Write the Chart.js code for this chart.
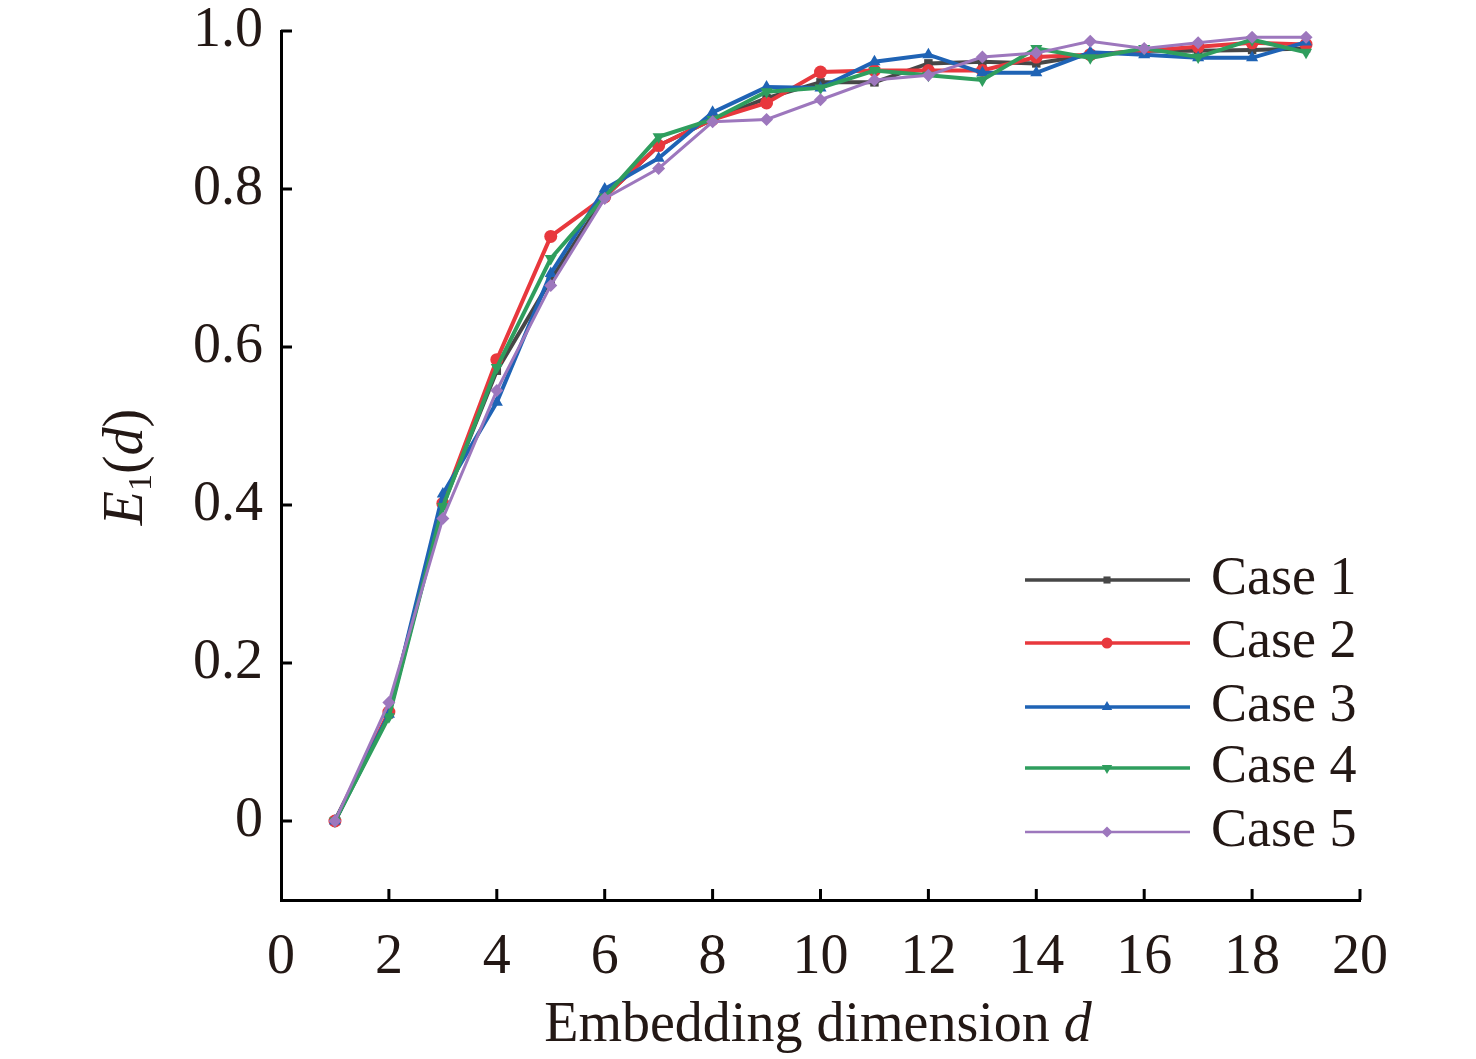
<!DOCTYPE html>
<html>
<head>
<meta charset="utf-8">
<script src="https://cdn.jsdelivr.net/npm/chart.js@4.4.0/dist/chart.umd.min.js"></script>
<style>
  html, body { margin: 0; padding: 0; background: #fff; }
  #wrap { width: 1476px; height: 1059px; }
</style>
</head>
<body>
<div id="wrap"><canvas id="chart" width="1476" height="1059"></canvas></div>
<script>
'use strict';

const dims = [1, 2, 3, 4, 5, 6, 7, 8, 9, 10, 11, 12, 13, 14, 15, 16, 17, 18, 19];
const case1 = [0, 0.135, 0.400, 0.570, 0.685, 0.790, 0.855, 0.888, 0.915, 0.935, 0.935, 0.959, 0.961, 0.959, 0.970, 0.975, 0.975, 0.976, 0.978];
const case2 = [0, 0.138, 0.402, 0.584, 0.740, 0.790, 0.855, 0.888, 0.909, 0.948, 0.950, 0.950, 0.950, 0.967, 0.970, 0.975, 0.980, 0.985, 0.983];
const case3 = [0, 0.135, 0.414, 0.530, 0.693, 0.800, 0.839, 0.897, 0.929, 0.928, 0.961, 0.970, 0.947, 0.947, 0.973, 0.970, 0.966, 0.966, 0.986];
const case4 = [0, 0.132, 0.398, 0.574, 0.712, 0.790, 0.866, 0.888, 0.923, 0.928, 0.950, 0.944, 0.938, 0.978, 0.966, 0.978, 0.967, 0.989, 0.973];
const case5 = [0, 0.150, 0.383, 0.545, 0.678, 0.788, 0.826, 0.885, 0.888, 0.913, 0.938, 0.944, 0.967, 0.972, 0.987, 0.978, 0.985, 0.992, 0.992];

const caseNames = ['Case 1', 'Case 2', 'Case 3', 'Case 4', 'Case 5'];
const caseColors = ['#474747', '#e8383d', '#1f63b5', '#2f9e5e', '#9d77bd'];
const xTicks = [0, 2, 4, 6, 8, 10, 12, 14, 16, 18, 20];
const yTicks = [0, 0.2, 0.4, 0.6, 0.8, 1.0];

const serif = '"Liberation Serif", "DejaVu Serif", serif';
const textColor = '#231815';

const allSeries = [case1, case2, case3, case4, case5];
const pointStyles = ['rect', 'circle', 'triangle', 'triangle', 'rectRot'];
const rotations = [0, 0, 0, 180, 0];
const lineWidths = [4, 4, 4, 4, 3];
const radii = [6, 6.5, 7, 7, 6.5];

function makeDatasets() {
  const sets = [];
  for (let i = 0; i < allSeries.length; i++) {
    sets.push({
      label: caseNames[i],
      data: dims.map((d, j) => ({ x: d, y: allSeries[i][j] })),
      borderColor: caseColors[i],
      backgroundColor: caseColors[i],
      borderWidth: lineWidths[i],
      pointStyle: pointStyles[i],
      rotation: rotations[i],
      pointRadius: radii[i],
      pointBorderWidth: 0,
      tension: 0,
      order: allSeries.length - 1 - i,
    });
  }
  return sets;
}

// inward ticks, rich-text titles and legend
const decorPlugin = {
  id: 'decor',
  afterDraw(chart) {
    const ctx = chart.ctx;
    const xs = chart.scales.x;
    const ys = chart.scales.y;
    const area = chart.chartArea;
    ctx.save();
    ctx.strokeStyle = '#000';
    ctx.lineWidth = 3;
    ctx.beginPath();
    xTicks.forEach(t => {
      if (t === 0) return;
      const px = xs.getPixelForValue(t);
      ctx.moveTo(px, area.bottom);
      ctx.lineTo(px, area.bottom - 11);
    });
    yTicks.forEach(t => {
      const py = ys.getPixelForValue(t);
      ctx.moveTo(area.left, py);
      ctx.lineTo(area.left + 11, py);
    });
    ctx.stroke();

    // x title
    ctx.fillStyle = textColor;
    ctx.textBaseline = 'alphabetic';
    const xPart1 = 'Embedding dimension ';
    ctx.font = '56px ' + serif;
    const w1 = ctx.measureText(xPart1).width;
    ctx.font = 'italic 56px ' + serif;
    const w2 = ctx.measureText('d').width;
    let sx = 818 - (w1 + w2) / 2;
    ctx.font = '56px ' + serif;
    ctx.textAlign = 'left';
    ctx.fillText(xPart1, sx, 1041);
    ctx.font = 'italic 56px ' + serif;
    ctx.fillText('d', sx + w1, 1041);

    // y title
    ctx.save();
    ctx.translate(142, 467);
    ctx.rotate(-Math.PI / 2);
    const parts = [
      { t: 'E', f: 'italic 56px ' + serif, dy: 0 },
      { t: '1', f: '34px ' + serif, dy: 9 },
      { t: '(', f: '56px ' + serif, dy: 0 },
      { t: 'd', f: 'italic 56px ' + serif, dy: 0 },
      { t: ')', f: '56px ' + serif, dy: 0 },
    ];
    let total = 0;
    parts.forEach(p => { ctx.font = p.f; p.w = ctx.measureText(p.t).width; total += p.w; });
    let cx = -total / 2;
    parts.forEach(p => {
      ctx.font = p.f;
      ctx.fillText(p.t, cx, p.dy);
      cx += p.w;
    });
    ctx.restore();

    // legend
    const rowY = [580, 643, 707, 768, 832];
    for (let i = 0; i < caseNames.length; i++) {
      const y = rowY[i];
      ctx.strokeStyle = caseColors[i];
      ctx.lineWidth = lineWidths[i] - 0.5;
      ctx.beginPath();
      ctx.moveTo(1025, y);
      ctx.lineTo(1190, y);
      ctx.stroke();
      ctx.fillStyle = caseColors[i];
      Chart.helpers.drawPoint(ctx, {
        pointStyle: pointStyles[i],
        rotation: rotations[i],
        radius: radii[i] - 1,
        borderWidth: 0,
      }, 1107, y);
      ctx.fillStyle = textColor;
      ctx.font = '54px ' + serif;
      ctx.textAlign = 'left';
      ctx.textBaseline = 'middle';
      ctx.fillText(caseNames[i], 1211, y);
    }
    ctx.restore();
  },
};

const config = {
  type: 'line',
  data: { datasets: makeDatasets() },
  options: {
    responsive: false,
    devicePixelRatio: 1,
    animation: false,
    layout: { padding: { top: 31, right: 116, bottom: 0, left: 0 } },
    plugins: { legend: { display: false }, tooltip: { enabled: false } },
    scales: {
      x: {
        type: 'linear',
        min: 0,
        max: 20,
        afterFit(s) { s.height = 159; s.paddingLeft = 0; s.paddingRight = 0; },
        afterBuildTicks(s) { s.ticks = xTicks.map(v => ({ value: v })); },
        grid: { display: false, drawTicks: false },
        border: { display: true, color: '#000', width: 3 },
        ticks: {
          color: textColor,
          font: { family: serif, size: 56 },
          padding: 25,
          maxRotation: 0,
          callback: v => String(v),
        },
      },
      y: {
        type: 'linear',
        min: -0.1,
        max: 1.0,
        afterFit(s) { s.width = 281; s.paddingTop = 0; s.paddingBottom = 0; },
        afterBuildTicks(s) { s.ticks = yTicks.map(v => ({ value: v })); },
        grid: { display: false, drawTicks: false },
        border: { display: true, color: '#000', width: 3 },
        ticks: {
          color: textColor,
          font: { family: serif, size: 56 },
          padding: 18,
          callback: v => (v === 0 ? '0' : v.toFixed(1)),
        },
      },
    },
  },
  plugins: [decorPlugin],
};

const myChart = new Chart(document.getElementById('chart'), config);
</script>
</body>
</html>
